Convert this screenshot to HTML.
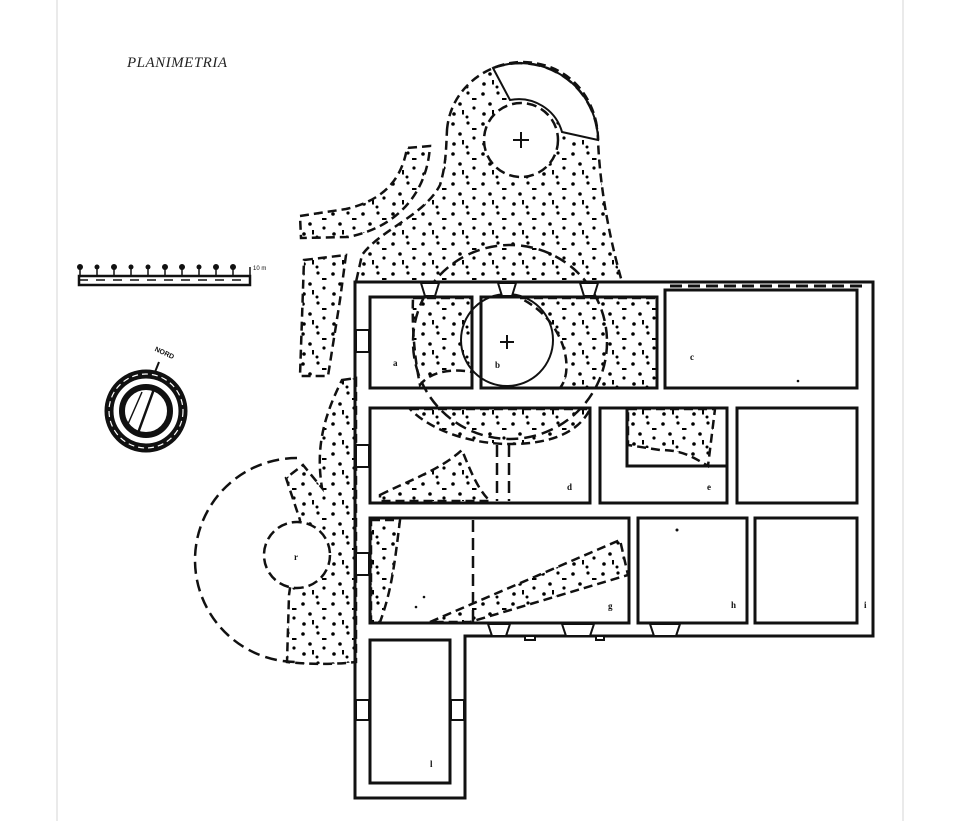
<!DOCTYPE html>
<html><head><meta charset="utf-8"><style>
html,body{margin:0;padding:0;background:#fff;}
svg{display:block;}
</style></head><body>
<svg width="960" height="821" viewBox="0 0 960 821" xmlns="http://www.w3.org/2000/svg">
<defs>
<pattern id="st" width="30" height="30" patternUnits="userSpaceOnUse">
<circle cx="3" cy="4" r="1.8"/><circle cx="18" cy="3" r="1.6"/>
<circle cx="10" cy="14" r="1.8"/><circle cx="24" cy="18" r="1.6"/><circle cx="4" cy="24" r="1.8"/>
<circle cx="17" cy="27" r="1.5"/>
<rect x="22" y="8" width="4.5" height="2"/><rect x="12" y="20" width="2" height="4.5"/>
</pattern>
</defs>
<rect width="960" height="821" fill="#fff"/>
<line x1="57" y1="0" x2="57" y2="821" stroke="#e4e4e4" stroke-width="1.5"/>
<line x1="903" y1="0" x2="903" y2="821" stroke="#e4e4e4" stroke-width="1.5"/>

<text x="127" y="67" font-family="Liberation Serif, serif" font-style="italic" font-size="15" fill="#222" letter-spacing="0.5">PLANIMETRIA</text>

<!-- scale bar -->
<g fill="#111" stroke="#111">
<rect x="79" y="276" width="171" height="9" fill="#fff" stroke-width="2.5"/>
<line x1="79" y1="280" x2="250" y2="280" stroke-width="1.5" stroke-dasharray="9 8"/>
<g stroke-width="1.5">
<line x1="80" y1="267" x2="80" y2="276"/><line x1="97" y1="267" x2="97" y2="276"/><line x1="114" y1="267" x2="114" y2="276"/><line x1="131" y1="267" x2="131" y2="276"/><line x1="148" y1="267" x2="148" y2="276"/><line x1="165" y1="267" x2="165" y2="276"/><line x1="182" y1="267" x2="182" y2="276"/><line x1="199" y1="267" x2="199" y2="276"/><line x1="216" y1="267" x2="216" y2="276"/><line x1="233" y1="267" x2="233" y2="276"/><line x1="250" y1="267" x2="250" y2="276"/>
</g>
<g stroke="none"><circle cx="80" cy="267" r="3"/><circle cx="97" cy="267" r="2.5"/><circle cx="114" cy="267" r="3"/><circle cx="131" cy="267" r="2.5"/><circle cx="148" cy="267" r="2.5"/><circle cx="165" cy="267" r="3"/><circle cx="182" cy="267" r="3"/><circle cx="199" cy="267" r="2.5"/><circle cx="216" cy="267" r="3"/><circle cx="233" cy="267" r="3"/>
<text x="253" y="270" font-size="6" font-family="Liberation Sans, sans-serif">10 m</text></g>
</g>

<!-- compass -->
<g fill="none" stroke="#111">
<circle cx="146" cy="411" r="37" stroke-width="9"/>
<circle cx="146" cy="411" r="37" stroke="#fff" stroke-width="1.2" stroke-dasharray="6 4"/>
<circle cx="146" cy="411" r="24" stroke-width="6"/>
<line x1="138" y1="433" x2="154" y2="389" stroke-width="2.5"/>
<line x1="128" y1="424" x2="142" y2="392" stroke-width="1.5"/>
<line x1="155" y1="372" x2="159" y2="362" stroke-width="2"/>
<text x="155" y="353" font-size="7" font-weight="bold" fill="#111" stroke="none" transform="rotate(25 160 350)" font-family="Liberation Sans, sans-serif">NORD</text>
</g>

<!-- stipple regions -->
<g fill="url(#st)" stroke="#111" stroke-width="2.5" stroke-dasharray="9 5">
<path d="M447,130 C450,90 485,63 521,62 C570,62 598,100 598,140 C600,190 610,240 622,282 L356,282 L362,255 C380,230 425,215 440,185 C446,165 446,150 447,130 Z"/>
<path d="M300,216 L346,209 C385,200 402,178 407,148 L430,146 C427,195 395,228 348,237 L301,238 Z"/>
<path d="M304,260 L346,255 L340,300 L328,376 L300,376 Z"/>
<path d="M342,380 L356,378 L356,662 C330,665 305,664 287,662 L289,595 L300,520 L286,478 L303,465 L322,488 C316,450 322,420 342,380 Z"/>
<path d="M413,298 L472,298 L472,372 C450,368 430,372 420,385 C414,355 412,325 413,298 Z"/>
<path d="M520,298 L657,298 L657,388 L560,388 C575,370 565,320 520,298 Z"/>
<path d="M410,409 L590,409 C580,430 555,444 510,444 C470,444 430,430 410,409 Z"/>
<path d="M380,495 C410,480 440,470 462,450 C470,470 478,490 490,501 L380,501 Z"/>
<path d="M628,409 L715,409 L708,466 C690,455 680,450 660,450 L628,445 Z"/>
<path d="M371,520 L400,520 C395,560 392,590 380,622 L371,622 Z"/>
<path d="M430,622 L620,540 L628,575 L470,622 Z"/>
</g>

<!-- white cut-outs -->
<g fill="#fff" stroke="#111" stroke-width="2.5" stroke-dasharray="10 5">
<path d="M493,68 A78,78 0 0 1 598,140 L562,132 A45,45 0 0 0 510,100 Z" stroke-dasharray="none" stroke-width="2"/>
<circle cx="521" cy="140" r="37"/>
<circle cx="297" cy="555" r="33"/>
</g>

<!-- dashed circles -->
<g fill="none" stroke="#111" stroke-width="2.5" stroke-dasharray="12 6">
<path d="M493,68 A78,78 0 0 1 598,140"/>
<circle cx="510" cy="342" r="97"/>
<path d="M297,458 A102,102 0 0 0 297,662"/>
<circle cx="507" cy="340" r="46" stroke-dasharray="none" stroke-width="2"/>
<line x1="497" y1="445" x2="497" y2="501"/><line x1="509" y1="445" x2="509" y2="501"/>
<line x1="473" y1="520" x2="473" y2="622"/>
<line x1="670" y1="286" x2="868" y2="286" stroke-width="3"/>
</g>

<!-- walls -->
<g fill="none" stroke="#111" stroke-width="3">
<path d="M355,798 L355,282 L873,282 L873,636 L465,636 L465,798 Z"/>
<rect x="370" y="297" width="102" height="91"/>
<rect x="481" y="297" width="176" height="91"/>
<rect x="665" y="290" width="192" height="98"/>
<rect x="370" y="408" width="220" height="95"/>
<rect x="600" y="408" width="127" height="95"/>
<path d="M627,408 L627,466 L727,466"/>
<rect x="737" y="408" width="120" height="95"/>
<rect x="370" y="518" width="259" height="105"/>
<rect x="638" y="518" width="109" height="105"/>
<rect x="755" y="518" width="102" height="105"/>
<rect x="370" y="640" width="80" height="143"/>
</g>

<!-- doors -->
<g fill="#fff" stroke="#111" stroke-width="2">
<path d="M421,283 L439,283 L435,296 L425,296 Z"/>
<path d="M498,283 L516,283 L512,296 L502,296 Z"/>
<path d="M580,283 L598,283 L594,296 L584,296 Z"/>
<rect x="356" y="330" width="13" height="22"/>
<rect x="356" y="445" width="13" height="22"/>
<rect x="356" y="553" width="13" height="22"/>
<path d="M488,624 L510,624 L506,636 L492,636 Z"/>
<path d="M562,624 L594,624 L590,636 L566,636 Z"/>
<path d="M650,624 L680,624 L676,636 L654,636 Z"/>
<rect x="356" y="700" width="13" height="20"/>
<rect x="451" y="700" width="13" height="20"/>
<path d="M525,636 L535,636 L535,640 L525,640 Z"/>
<path d="M596,636 L604,636 L604,640 L596,640 Z"/>
</g>

<!-- crosses & labels -->
<g stroke="#111" stroke-width="2">
<line x1="513" y1="140" x2="529" y2="140"/><line x1="521" y1="132" x2="521" y2="148"/>
<line x1="500" y1="342" x2="514" y2="342"/><line x1="507" y1="335" x2="507" y2="349"/>
</g>
<g fill="#111" font-family="Liberation Serif, serif" font-size="9" font-weight="bold">
<text x="393" y="366">a</text><text x="495" y="368">b</text><text x="690" y="360">c</text>
<text x="567" y="490">d</text><text x="707" y="490">e</text><text x="608" y="609">g</text>
<text x="731" y="608">h</text><text x="864" y="608">i</text><text x="430" y="767">l</text>
<text x="294" y="560">r</text>
<circle cx="798" cy="381" r="1.3"/><circle cx="677" cy="530" r="1.5"/><circle cx="424" cy="597" r="1.3"/><circle cx="416" cy="607" r="1.3"/>
</g>
</svg>
</body></html>
